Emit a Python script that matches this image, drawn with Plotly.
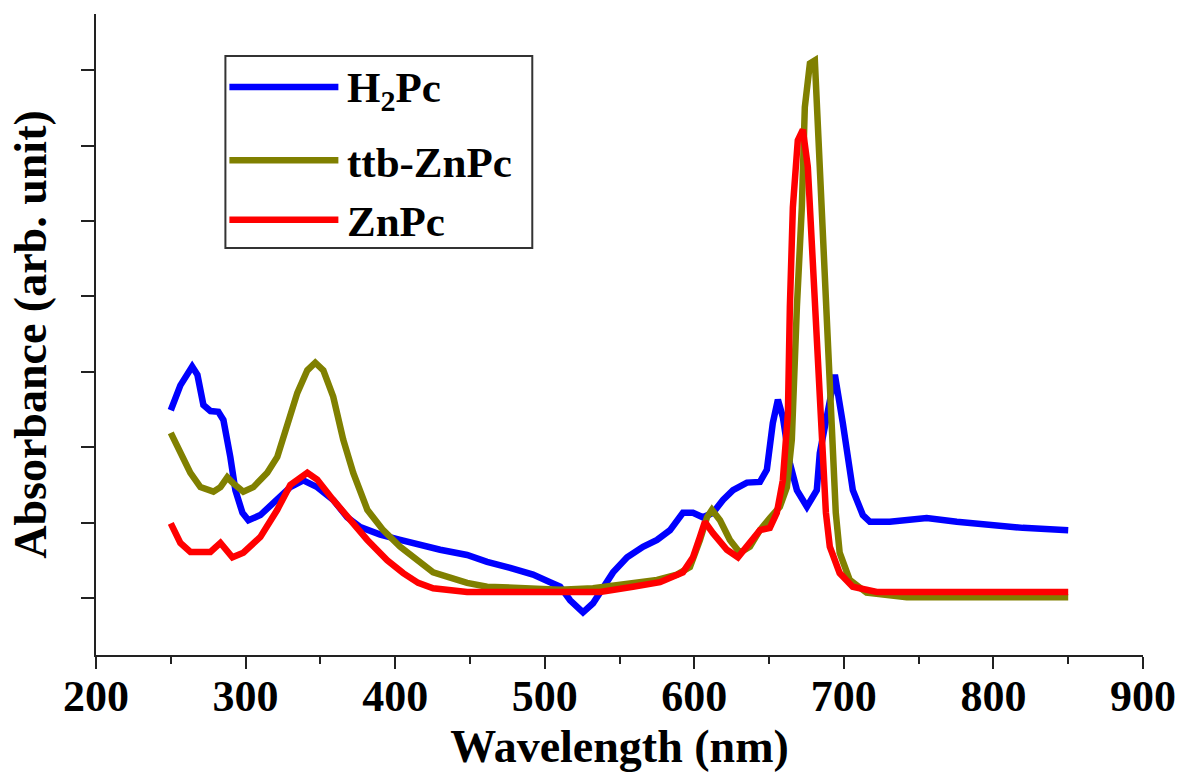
import plotly.graph_objects as go

# ---------------- data ----------------
h2pc_nm = [250, 256.4, 264.3, 267.8, 271.8, 276.5, 281.8, 285.2, 289.8, 293.2, 297.9, 301.9,
           309.9, 318.6, 329.9, 338.6, 347.9, 358.6, 368.0, 376.7, 390.0, 403.4, 416.7, 430.1,
           448.1, 461.5, 476.9, 492.2, 503.6, 510.3, 517.0, 525.6, 532.3, 539.0, 545.7, 555.1,
           565.7, 575.1, 583.8, 592.4, 599.1, 605.8, 612.5, 619.2, 625.9, 635.2, 643.9, 648.5,
           652.5, 655.9, 659.2, 663.9, 668.6, 675.3, 681.9, 683.9, 688.6, 694.0, 699.3, 706.0,
           712.7, 717.4, 730.7, 755.4, 775.5, 797.5, 819.6, 850]
h2pc_abs = [0.349, 0.382, 0.407, 0.396, 0.356, 0.348, 0.347, 0.336, 0.287, 0.243, 0.213, 0.203,
            0.210, 0.226, 0.247, 0.256, 0.247, 0.230, 0.207, 0.194, 0.184, 0.177, 0.170, 0.164,
            0.157, 0.148, 0.140, 0.131, 0.121, 0.115, 0.097, 0.081, 0.093, 0.115, 0.134, 0.154,
            0.168, 0.177, 0.190, 0.213, 0.213, 0.207, 0.213, 0.230, 0.243, 0.253, 0.254, 0.270,
            0.332, 0.363, 0.340, 0.279, 0.243, 0.221, 0.243, 0.292, 0.345, 0.396, 0.332, 0.243,
            0.210, 0.201, 0.201, 0.206, 0.201, 0.197, 0.193, 0.190]

ttb_nm = [250, 256.4, 263.1, 269.8, 278.5, 283.2, 287.8, 291.8, 298.5, 305.2, 314.5, 321.2,
          327.9, 334.6, 341.3, 346.6, 352.0, 358.6, 365.3, 372.0, 381.4, 392.0, 403.4, 414.7,
          425.4, 436.8, 448.1, 461.5, 481.5, 510.3, 532.3, 555.1, 575.1, 588.4, 597.1, 603.8,
          608.5, 611.8, 617.2, 623.8, 630.5, 637.2, 643.9, 650.5, 657.2, 661.9, 665.2, 668.6,
          671.9, 673.9, 677.3, 680.6, 682.0, 685.3, 688.6, 690.6, 692.6, 694.6, 697.2, 703.9,
          715.2, 742.0, 850]
ttb_abs = [0.319, 0.292, 0.266, 0.247, 0.241, 0.247, 0.260, 0.252, 0.241, 0.247, 0.266, 0.287,
           0.327, 0.372, 0.402, 0.412, 0.402, 0.367, 0.310, 0.266, 0.217, 0.190, 0.168, 0.150,
           0.134, 0.127, 0.120, 0.115, 0.113, 0.111, 0.113, 0.119, 0.124, 0.131, 0.141, 0.177,
           0.207, 0.217, 0.203, 0.177, 0.160, 0.168, 0.190, 0.206, 0.221, 0.247, 0.310, 0.486,
           0.618, 0.751, 0.809, 0.813, 0.751, 0.618, 0.486, 0.398, 0.310, 0.213, 0.160, 0.124,
           0.107, 0.101, 0.101]

znpc_nm = [250, 256.4, 263.1, 276.5, 283.2, 291.2, 298.5, 309.9, 321.2, 329.9, 341.3, 347.9,
           358.6, 370.0, 381.4, 394.7, 405.4, 415.4, 425.4, 448.1, 492.2, 537.0, 559.0, 577.1,
           592.4, 599.1, 603.8, 607.1, 612.5, 621.8, 629.2, 637.2, 643.9, 650.5, 655.2, 659.2,
           662.6, 663.9, 665.9, 669.2, 672.6, 675.9, 678.6, 682.0, 683.9, 685.9, 688.0, 690.6,
           697.2, 705.9, 722.0, 850]
znpc_abs = [0.199, 0.173, 0.161, 0.161, 0.173, 0.154, 0.160, 0.181, 0.217, 0.250, 0.266, 0.257,
            0.230, 0.203, 0.177, 0.150, 0.133, 0.120, 0.113, 0.108, 0.107, 0.108, 0.115, 0.121,
            0.134, 0.154, 0.181, 0.201, 0.186, 0.164, 0.154, 0.173, 0.190, 0.193, 0.213, 0.256,
            0.345, 0.486, 0.618, 0.707, 0.721, 0.672, 0.575, 0.465, 0.398, 0.310, 0.213, 0.168,
            0.133, 0.115, 0.108, 0.108]

series_names = ["H<sub>2</sub>Pc", "ttb-ZnPc", "ZnPc"]
series_colors = ["#0000FF", "#808000", "#FF0000"]
x_ticks = [200, 300, 400, 500, 600, 700, 800, 900]
y_ticks = [0.1, 0.2, 0.3, 0.4, 0.5, 0.6, 0.7, 0.8]

FONT = "Liberation Serif, Times New Roman, serif"
LW = 6.5

fig = go.Figure()
for xs, ys, name, col in zip([h2pc_nm, ttb_nm, znpc_nm], [h2pc_abs, ttb_abs, znpc_abs],
                             series_names, series_colors):
    fig.add_trace(go.Scatter(x=xs, y=ys, mode="lines", name=name,
                             line=dict(color=col, width=LW), showlegend=False))

# manual legend (box, line samples, labels)
fig.add_shape(type="rect", xref="paper", yref="paper", x0=0.1236, x1=0.4167, y0=0.635, y1=0.9345,
              line=dict(color="#333333", width=2), fillcolor="rgba(0,0,0,0)")
leg_y_line = [0.886, 0.772, 0.679]
leg_y_text = [0.880, 0.768, 0.676]
for name, col, yl, yt in zip(series_names, series_colors, leg_y_line, leg_y_text):
    fig.add_shape(type="line", xref="paper", yref="paper", x0=0.1274, x1=0.2315, y0=yl, y1=yl,
                  line=dict(color=col, width=LW))
    fig.add_annotation(xref="paper", yref="paper", x=0.2382, y=yt, xanchor="left", yanchor="middle",
                       text="<b>" + name + "</b>", showarrow=False,
                       font=dict(family=FONT, size=43, color="black"))

fig.update_layout(
    width=1181, height=774,
    margin=dict(l=95.5, r=38, t=14, b=119),
    plot_bgcolor="white", paper_bgcolor="white",
    showlegend=False,
    font=dict(family=FONT, color="black"),
)
fig.update_xaxes(
    range=[200, 900], tickvals=x_ticks, ticktext=[str(v) for v in x_ticks],
    automargin=False,
    showgrid=False, zeroline=False, showline=True, linecolor="#222222", linewidth=2,
    ticks="outside", ticklen=12, tickwidth=2, tickcolor="#222222",
    minor=dict(ticks="outside", ticklen=7, tickwidth=2, tickcolor="#222222", dtick=50, tick0=200, showgrid=False),
    tickfont=dict(family=FONT, size=44, color="black", weight="bold"),
    ticklabelstandoff=-11,
    title=dict(text="Wavelength (nm)", font=dict(family=FONT, size=46, color="black", weight="bold"), standoff=1),
)
fig.update_yaxes(
    range=[0.0244, 0.8745], tickvals=y_ticks, showticklabels=False,
    automargin=False,
    showgrid=False, zeroline=False, showline=True, linecolor="#222222", linewidth=2,
    ticks="outside", ticklen=13, tickwidth=2, tickcolor="#222222",
    title=dict(text="Absorbance (arb. unit)", font=dict(family=FONT, size=46, color="black", weight="bold"), standoff=20),
)

fig.write_html("out.html", config={"displayModeBar": False},
               post_script="document.body.style.margin='0';document.body.style.overflow='hidden';")
